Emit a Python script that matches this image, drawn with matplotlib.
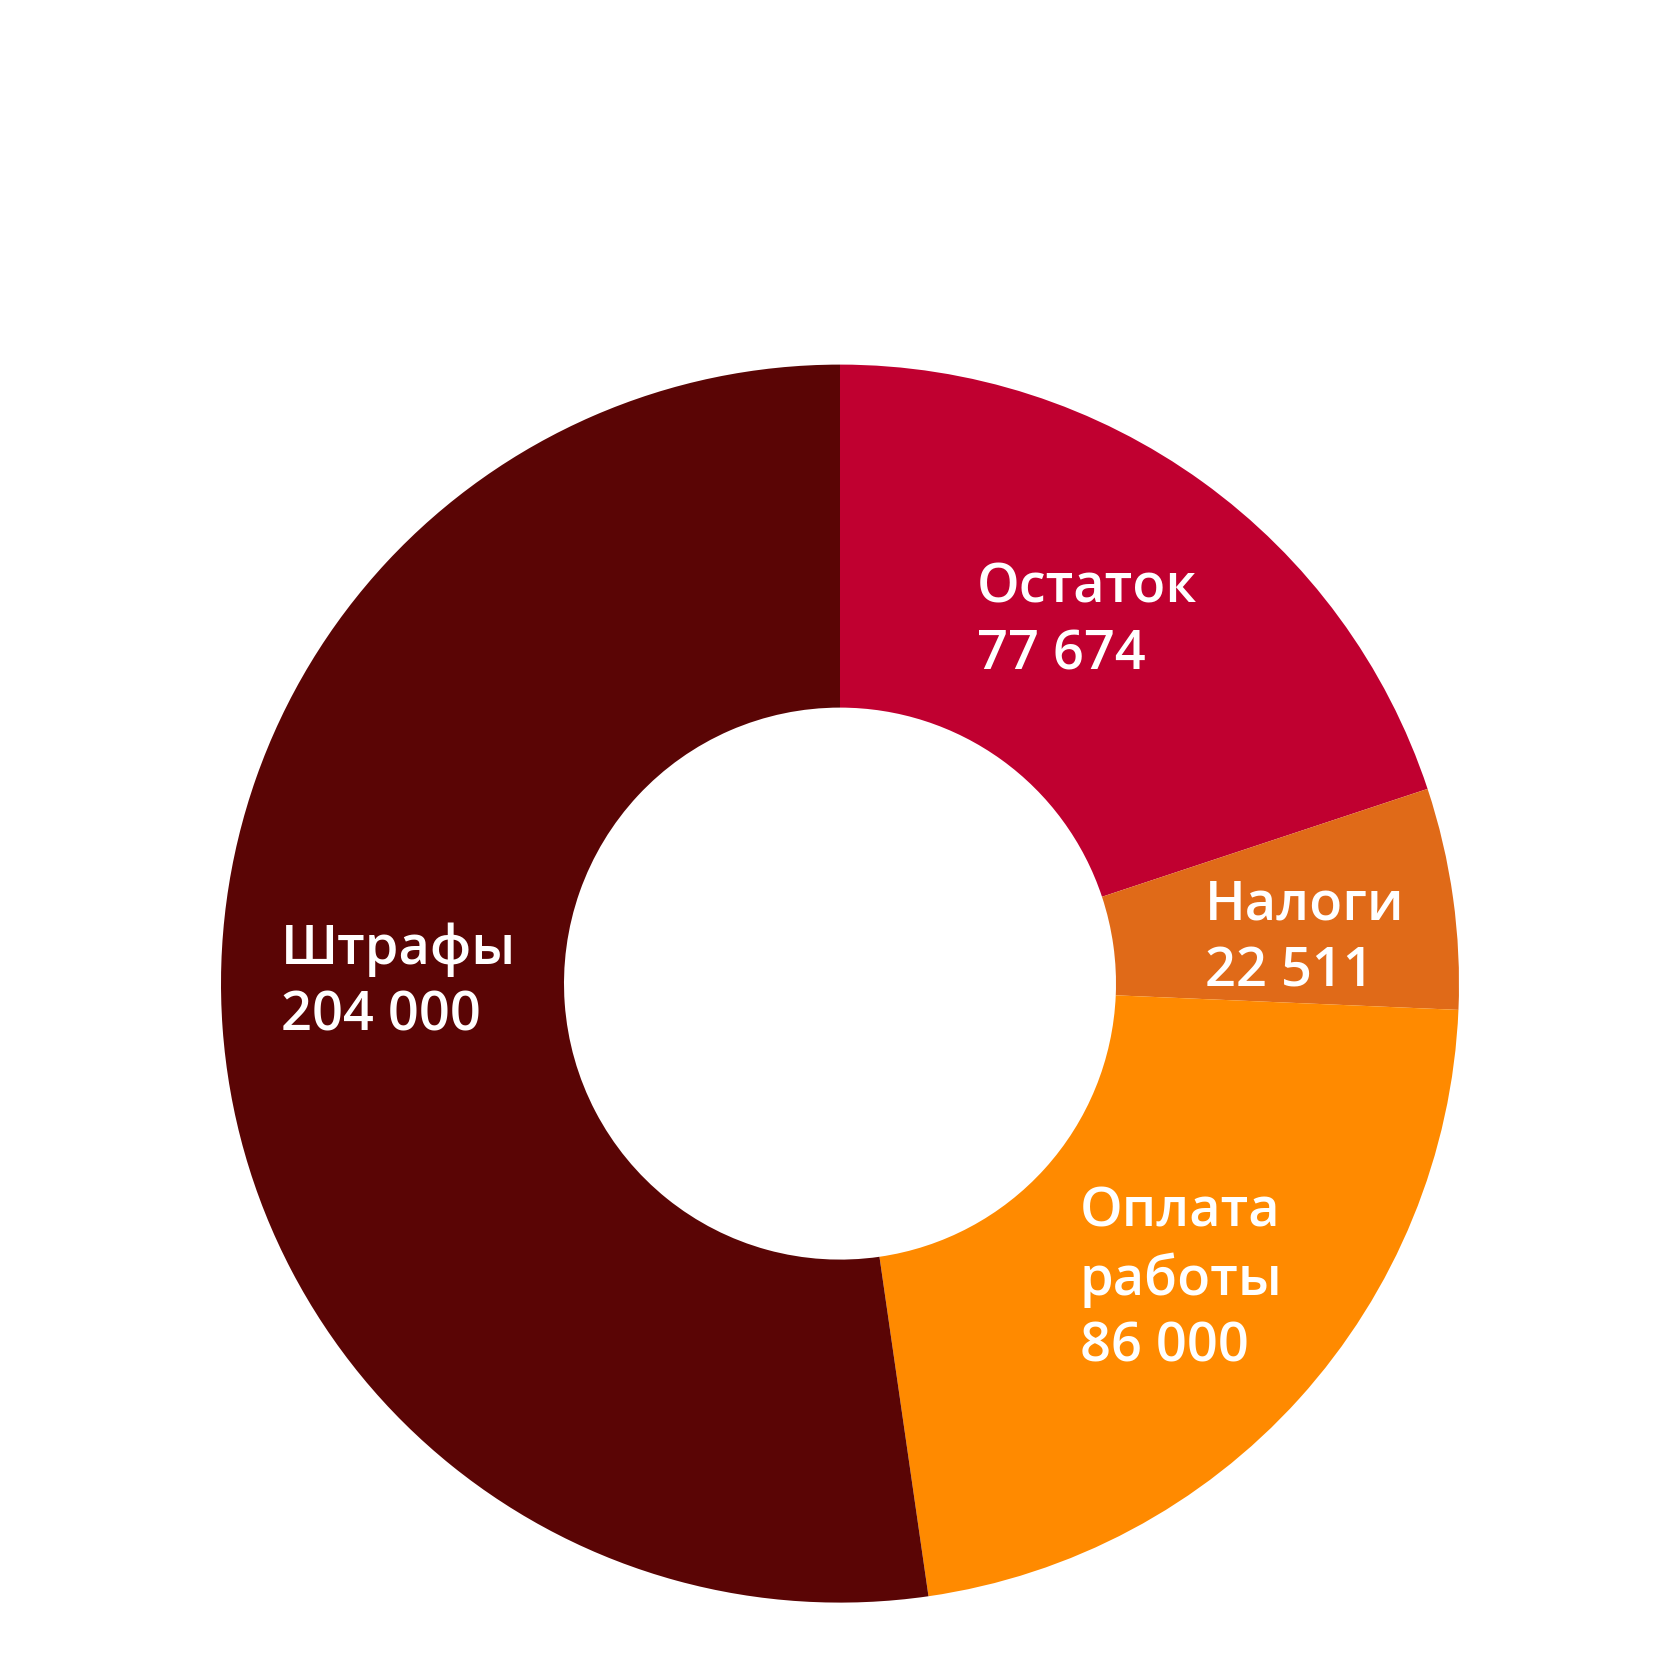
import matplotlib.pyplot as plt

# данные
categories = ["Остаток", "Налоги", "Оплата\nработы", "Штрафы"]
values = [77674, 22511, 86000, 204000]
colors = ["#C00030", "#E06A18", "#FF8A00", "#5A0505"]

# позиции подписей (в пикселях, ось y вверх)
label_pos = [(977, 1680 - 622), (1205, 1680 - 939), (1080, 1680 - 1280), (281, 1680 - 983)]


def fmt(v):
    return f"{v:,}".replace(",", " ")


def plot_all():
    fig = plt.figure(figsize=(16.8, 16.8), dpi=100)
    ax = fig.add_axes([0, 0, 1, 1])

    ax.pie(values, colors=colors, startangle=90, counterclock=False,
           center=(840, 1680 - 983.6), radius=619, frame=True,
           wedgeprops=dict(width=619 - 276, linewidth=0))
    ax.set_xlim(0, 1680)
    ax.set_ylim(0, 1680)
    ax.set_aspect("equal")
    ax.axis("off")

    for name, v, (x, y) in zip(categories, values, label_pos):
        ax.text(x, y, f"{name}\n{fmt(v)}", ha="left", va="center",
                color="white", fontsize=39, fontweight="semibold",
                family=["Open Sans", "DejaVu Sans"], linespacing=1.31)

    fig.savefig("out.png", dpi=100, facecolor="white")


if __name__ == "__main__":
    plot_all()
